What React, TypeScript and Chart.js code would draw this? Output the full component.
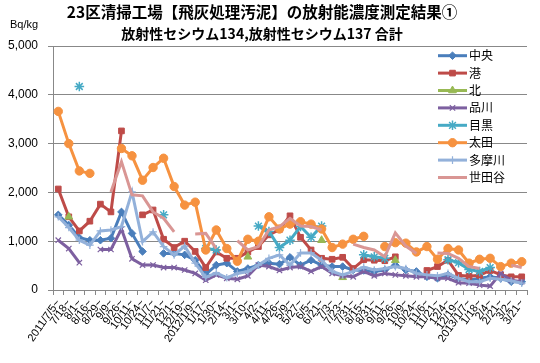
import React, { useEffect, useRef } from "react";
import { Chart, registerables } from "chart.js";
import { drawPoint } from "chart.js/helpers";

Chart.register(...registerables);

const N = null;

const TITLE = "23区清掃工場【飛灰処理汚泥】の放射能濃度測定結果①";
const SUBTITLE = "放射性セシウム134,放射性セシウム137 合計";
const UNIT = "Bq/kg";

const categories = [
  "2011/7/5~", "7/18~", "8/1~", "8/16~", "8/29~", "9/9~", "9/26~", "10/11~", "10/24~", "11/7~",
  "11/21~", "12/1~", "12/19~", "2012/1/9~", "1/17~", "1/30~", "2/14~", "3/1~", "3/10~", "4/2~",
  "4/11~", "4/26~", "5/9~", "5/27~", "6/5~", "6/21~", "7/3~", "7/23~", "7/31~", "8/15~",
  "8/31~", "9/11~", "9/26~", "10/9~", "10/24~", "11/6~", "11/21~", "12/4~", "12/19~", "2013/1/7~",
  "1/18~", "2/4~", "2/21~", "3/2~", "3/21~",
];

const chuo = [
  1540, 1330, 1070, 1020, 1020, 1060, 1600, 1160, 790, N,
  750, 750, 720, 610, 320, 510, 550, 380, 440, 510,
  550, 530, 670, 510, 610, 510, 480, 480, 410, 400,
  380, 410, 510, 410, 380, 270, 240, 310, 240, 200,
  240, 270, 240, 170, 170,
];
const minato = [
  2070, 1500, 1210, 1410, 1760, 1600, 3260, N, 1540, 1640,
  1040, 870, 1000, 790, 460, 780, 650, 650, 780, 890,
  1130, 1240, 1520, 1080, 820, 650, 630, 670, 440, 620,
  610, 600, 680, N, N, 400, 480, 610, 300, 280,
  300, 400, 310, 270, 270,
];
const kita = [
  N, 1500, N, N, N, N, N, N, N, N,
  N, N, N, N, N, N, N, N, 680, N,
  N, N, N, N, N, 1020, N, 260, N, N,
  N, N, 610, N, N, N, N, N, N, N,
  N, N, N, N, N,
];
const shinagawa = [
  1020, 850, 560, N, 830, 830, 1250, 640, 510, 510,
  460, 460, 410, 340, 200, 310, 240, 220, 290, 510,
  480, 400, 460, 480, 380, 480, 340, 290, 270, 380,
  290, 340, 310, 290, 270, 270, 240, 240, 150, 140,
  100, 80, 340, 200, 170,
];
const meguro = [
  N, N, 4170, N, N, N, N, N, N, N,
  1540, N, N, N, 850, 820, N, N, N, 1310,
  1200, 870, 1020, 1300, 1080, 1310, N, N, N, 720,
  680, 650, N, N, N, N, N, 620, 560, 420,
  380, 460, N, N, N,
];
const ota = [
  3660, 3000, 2440, 2390, N, N, 2900, 2750, 2250, 2510,
  2700, 2120, 1740, 1800, 820, 1230, 850, 590, 1040, 1000,
  1500, 1250, 1350, 1400, 1350, 1250, 870, 940, 1040, 1100,
  N, 890, 970, 960, 780, 890, 630, 850, 820, 550,
  630, 650, 480, 550, 580,
];
const tama = [
  1500, 1280, 1020, 920, 1210, 1230, 1300, 2010, 990, 1190,
  890, 720, 900, 550, 260, 350, 250, 340, 380, 510,
  650, 720, 510, 760, 760, 610, 380, 310, 380, 470,
  410, 440, 480, 440, 340, 310, 290, 340, 240, 170,
  170, 240, 220, 190, 140,
];
const setagaya = [
  N, N, N, N, N, 2010, 2630, 1950, 1930, 1600,
  1470, 1190, N, 1150, 1160, 850, N, 1010, 820, 890,
  1230, 1300, 1470, 1310, 1300, 1230, N, N, 940, 870,
  820, 680, 1170, 900, 750, N, 760, 750, 650, 480,
  440, N, N, 510, 460,
];

const yTicks = [0, 1000, 2000, 3000, 4000, 5000];

const seriesDefs = [
  { label: "中央", data: chuo, color: "#4A7EBB", style: "rectRot", r: 3.8, bw: 1 },
  { label: "港", data: minato, color: "#BE4B48", style: "rect", r: 4, bw: 1 },
  { label: "北", data: kita, color: "#98B954", style: "triangle", r: 4.5, bw: 1 },
  { label: "品川", data: shinagawa, color: "#7D60A0", style: "crossRot", r: 3.8, bw: 1.2 },
  { label: "目黒", data: meguro, color: "#46AAC5", style: "star", r: 4.8, bw: 1.5 },
  { label: "太田", data: ota, color: "#F69240", style: "circle", r: 4.2, bw: 1 },
  { label: "多摩川", data: tama, color: "#93B1DA", style: "cross", r: 3.8, bw: 1.2 },
  { label: "世田谷", data: setagaya, color: "#D99694", style: "circle", r: 0, bw: 0 },
];

const overlayPlugin = {
  id: "overlay",
  afterDraw(chart: any) {
    const ctx = chart.ctx as CanvasRenderingContext2D;
    ctx.save();
    ctx.fillStyle = "#000";
    ctx.textAlign = "center";
    ctx.textBaseline = "middle";
    ctx.font = "bold 15.5px 'Noto Sans CJK JP'";
    ctx.fillText(TITLE, 262, 12);
    ctx.font = "bold 14px 'Noto Sans CJK JP'";
    ctx.fillText(SUBTITLE, 262, 34);
    ctx.font = "11px 'Liberation Sans'";
    ctx.fillText(UNIT, 24, 25);

    chart.data.datasets.forEach((ds: any, k: number) => {
      const y = 55.7 + k * 17.4;
      ctx.strokeStyle = ds.borderColor;
      ctx.fillStyle = ds.borderColor;
      ctx.lineWidth = 3;
      ctx.beginPath();
      ctx.moveTo(438, y);
      ctx.lineTo(467, y);
      ctx.stroke();
      if (ds.pointRadius > 0) {
        ctx.lineWidth = ds.pointBorderWidth;
        drawPoint(ctx, { pointStyle: ds.pointStyle, rotation: 0, radius: ds.pointRadius, borderWidth: ds.pointBorderWidth } as any, 452.5, y);
      }
      ctx.fillStyle = "#000";
      ctx.textAlign = "left";
      ctx.textBaseline = "middle";
      ctx.font = "12px 'Noto Sans CJK JP'";
      ctx.fillText(ds.label, 469, y);
    });
    ctx.restore();
  },
};

export default function App() {
  const canvasRef = useRef<HTMLCanvasElement | null>(null);

  useEffect(() => {
    if (!canvasRef.current) return;
    const datasets = seriesDefs.map((s, i) => ({
      label: s.label,
      data: s.data,
      borderColor: s.color,
      backgroundColor: s.color,
      borderWidth: 3,
      pointStyle: s.style,
      pointRadius: s.r,
      pointBorderWidth: s.bw,
      pointBackgroundColor: s.color,
      pointBorderColor: s.color,
      spanGaps: false,
      tension: 0,
      order: -i,
    }));
    const chart = new Chart(canvasRef.current, {
      type: "line",
      data: { labels: categories, datasets },
      plugins: [overlayPlugin],
      options: {
        responsive: false,
        animation: false,
        layout: { padding: { top: 46, right: 13, left: 0, bottom: 0 } },
        plugins: {
          legend: { display: false },
          title: { display: false },
          tooltip: { enabled: false },
        },
        scales: {
          x: {
            type: "category",
            offset: true,
            grid: {
              offset: true,
              drawOnChartArea: false,
              drawTicks: true,
              tickLength: 5,
              color: "#888",
            },
            border: { display: true, color: "#888", width: 1 },
            ticks: {
              autoSkip: false,
              minRotation: 55,
              maxRotation: 55,
              padding: 2,
              color: "#000",
              font: { family: "'Liberation Sans'", size: 11 },
            },
            afterFit: (s: any) => {
              s.height = 73;
            },
          },
          y: {
            min: 0,
            max: 5000,
            afterBuildTicks: (s: any) => {
              s.ticks = yTicks.map((v) => ({ value: v }));
            },
            grid: { color: "#888", tickLength: 5, drawTicks: true },
            border: { display: true, color: "#888", width: 1 },
            ticks: {
              padding: 10,
              color: "#000",
              font: { family: "'Liberation Sans'", size: 12 },
              callback: (v: any) => Number(v).toLocaleString("en-US"),
            },
            afterFit: (s: any) => {
              s.width = 53;
            },
          },
        },
      },
    } as any);
    return () => chart.destroy();
  }, []);

  return (
    <div style={{ position: "fixed", left: 0, top: 0, width: 540, height: 363, background: "#fff" }}>
      <canvas ref={canvasRef} width={540} height={363} style={{ display: "block" }} />
    </div>
  );
}
